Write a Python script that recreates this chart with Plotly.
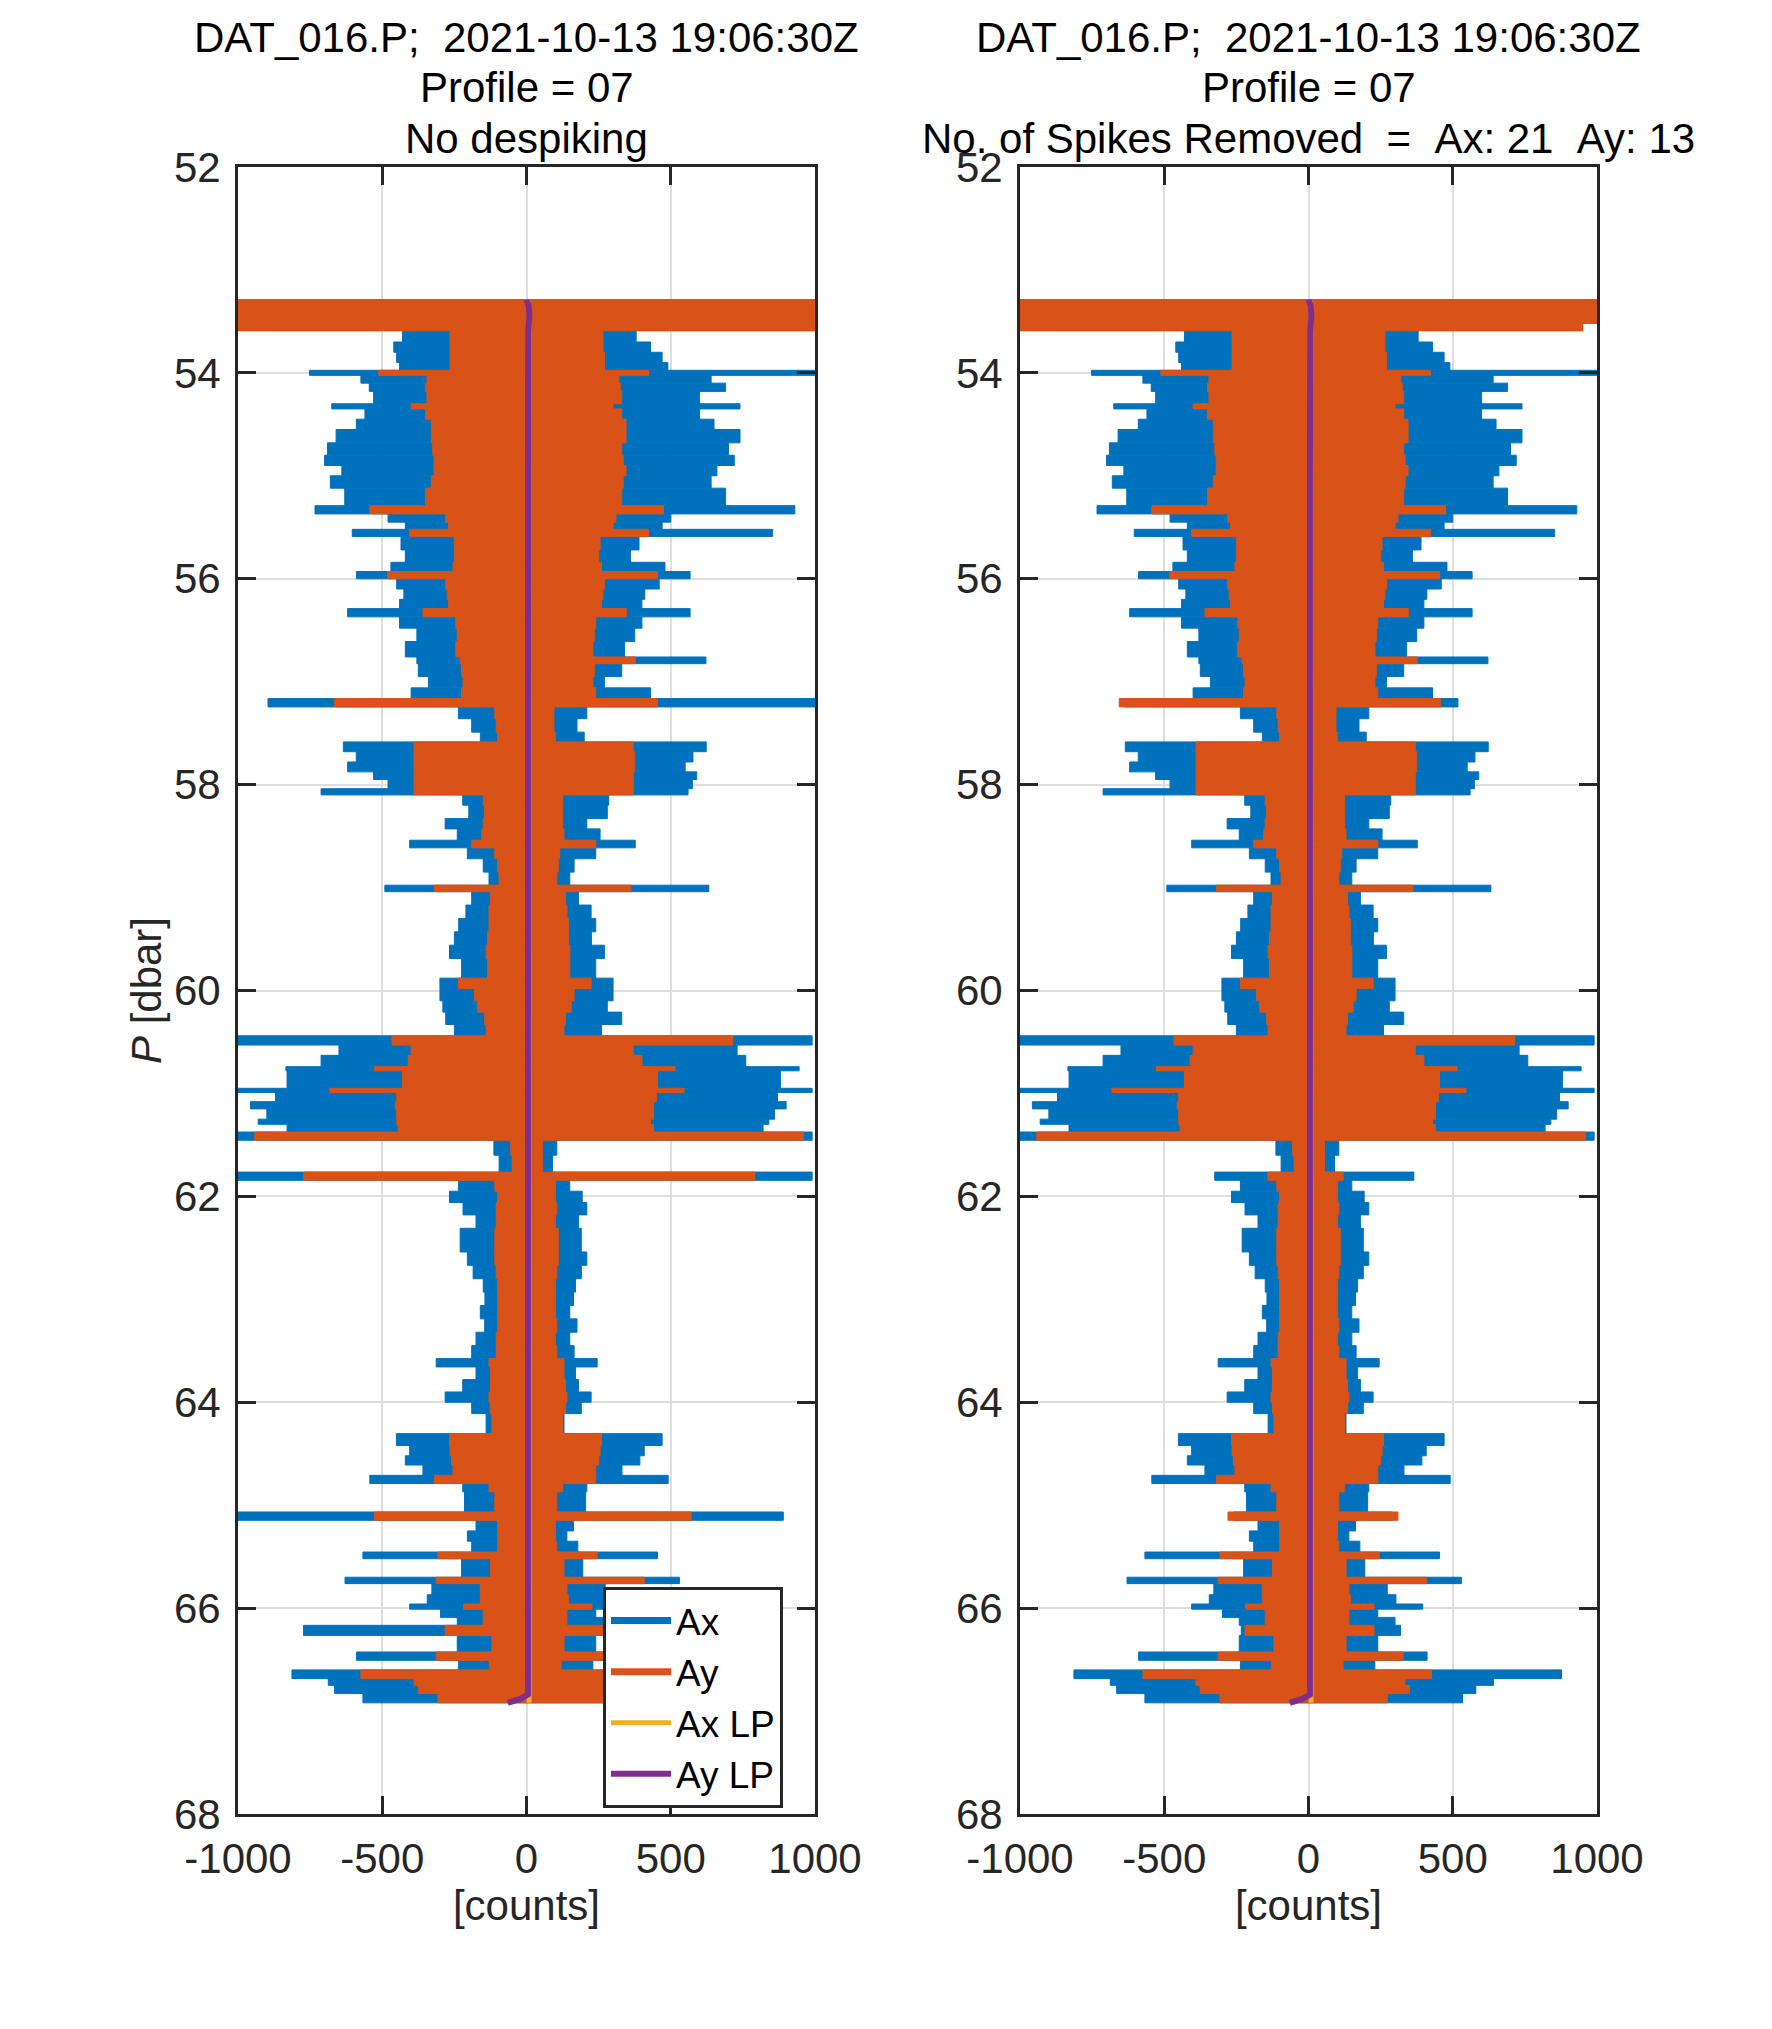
import plotly.graph_objects as go

# Accelerometer envelopes, DAT_016.P profile 07.
# Each segment runs from P_EDGES[i] to P_EDGES[i+1] [dbar]; values in [counts].
P_EDGES = [
    53.29, 53.52, 53.59, 53.70, 53.80, 53.90, 53.975, 54.024, 54.10, 54.18,
    54.30, 54.35, 54.45, 54.55, 54.68, 54.80, 54.90, 55.00, 55.12, 55.29,
    55.37, 55.45, 55.52, 55.59, 55.72, 55.84, 55.93, 56.00, 56.10, 56.20,
    56.29, 56.37, 56.48, 56.61, 56.76, 56.825, 56.95, 57.06, 57.164, 57.245,
    57.36, 57.49, 57.585, 57.68, 57.78, 57.876, 57.95, 58.04, 58.10, 58.20,
    58.33, 58.43, 58.54, 58.614, 58.72, 58.85, 58.977, 59.04, 59.17, 59.30,
    59.43, 59.56, 59.69, 59.88, 59.98, 60.10, 60.21, 60.33, 60.44, 60.53,
    60.63, 60.74, 60.78, 60.95, 60.99, 61.08, 61.15, 61.25, 61.30, 61.375,
    61.455, 61.60, 61.764, 61.844, 61.95, 62.06, 62.18, 62.31, 62.54, 62.67,
    62.80, 62.93, 63.06, 63.19, 63.32, 63.45, 63.576, 63.657, 63.78, 63.90,
    64.00, 64.11, 64.305, 64.42, 64.52, 64.61, 64.71, 64.79, 64.87, 65.066,
    65.147, 65.25, 65.35, 65.455, 65.52, 65.70, 65.762, 65.87, 65.96, 66.01,
    66.09, 66.167, 66.265, 66.426, 66.507, 66.60, 66.685, 66.75, 66.83, 66.92,
]
AX_LO = [
    -1000, -1000, -430, -460, -450, -440, -752, -574, -545, -530,
    -675, -560, -590, -660, -690, -700, -640, -680, -630, -733,
    -480, -420, -604, -435, -420, -470, -589, -450, -425, -440,
    -620, -440, -380, -420, -380, -375, -340, -400, -896, -236,
    -190, -160, -635, -590, -620, -530, -480, -712, -221, -200,
    -282, -240, -405, -205, -150, -130, -491, -190, -210, -235,
    -250, -267, -225, -300, -300, -290, -280, -250, -1000, -650,
    -712, -834, -830, -1000, -870, -957, -900, -930, -830, -1000,
    -113, -95, -1000, -236, -267, -220, -175, -230, -205, -185,
    -150, -144, -160, -145, -175, -190, -313, -175, -221, -282,
    -190, -140, -451, -405, -420, -359, -543, -221, -215, -1000,
    -175, -205, -190, -567, -225, -629, -328, -344, -405, -298,
    -240, -773, -240, -589, -236, -813, -687, -665, -567,
]
AX_HI = [
    1000, 1000, 380, 430, 470, 490, 1000, 640, 690, 600,
    740, 600, 650, 740, 700, 720, 660, 640, 690, 930,
    500, 470, 853, 390, 360, 480, 567, 460, 410, 400,
    567, 400, 375, 340, 622, 330, 270, 430, 1000, 209,
    175, 200, 623, 577, 550, 590, 575, 560, 285, 280,
    209, 255, 377, 240, 165, 150, 632, 180, 224, 240,
    225, 270, 240, 300, 300, 280, 330, 260, 990, 730,
    760, 945, 880, 990, 870, 900, 860, 840, 820, 990,
    105, 90, 990, 150, 193, 209, 180, 190, 209, 190,
    170, 163, 150, 175, 150, 165, 245, 170, 180, 224,
    190, 130, 470, 408, 393, 331, 491, 209, 205, 890,
    163, 140, 178, 454, 195, 530, 273, 303, 396, 240,
    300, 700, 240, 411, 230, 877, 641, 580, 534,
]
AY_LO = [
    -1000, -1000, -265, -265, -265, -265, -512, -345, -350, -345,
    -400, -350, -330, -330, -325, -320, -320, -330, -350, -543,
    -280, -270, -405, -250, -250, -255, -481, -280, -275, -270,
    -359, -245, -240, -245, -230, -225, -220, -225, -665, -110,
    -105, -100, -390, -390, -390, -390, -390, -390, -150, -145,
    -150, -155, -190, -110, -100, -95, -319, -125, -130, -130,
    -135, -140, -135, -236, -180, -170, -145, -140, -466, -400,
    -410, -527, -430, -681, -450, -455, -450, -450, -445, -942,
    -55, -50, -773, -110, -100, -105, -105, -110, -110, -105,
    -100, -100, -100, -100, -105, -105, -130, -125, -125, -130,
    -125, -120, -267, -265, -260, -255, -319, -130, -110, -527,
    -100, -100, -100, -307, -125, -313, -160, -160, -218, -150,
    -150, -282, -120, -313, -129, -574, -390, -375, -307,
]
AY_HI = [
    1000, 1000, 265, 265, 270, 270, 423, 320, 325, 330,
    300, 330, 345, 345, 330, 335, 345, 335, 330, 475,
    310, 300, 423, 255, 250, 260, 454, 270, 265, 260,
    346, 240, 235, 230, 377, 235, 230, 240, 454, 95,
    95, 100, 370, 375, 375, 370, 370, 370, 125, 125,
    125, 130, 240, 115, 110, 105, 362, 135, 140, 145,
    145, 150, 150, 224, 165, 155, 135, 130, 715, 370,
    400, 515, 454, 546, 450, 440, 440, 430, 440, 960,
    55, 55, 791, 100, 100, 105, 100, 110, 110, 105,
    100, 100, 100, 105, 100, 105, 130, 130, 135, 140,
    135, 125, 260, 255, 250, 240, 240, 125, 105, 571,
    100, 100, 105, 245, 130, 408, 140, 145, 227, 140,
    140, 330, 130, 328, 120, 426, 334, 350, 273,
]

# Segments changed by the despiking (right panel)
DESPIKE_P = [53.52, 57.164, 61.764, 65.066, 66.167]
DESPIKE_AX_LO = [-1000, -640, -325, -260, -233]
DESPIKE_AX_HI = [950, 518, 365, 290, 319]
DESPIKE_AY_LO = [-1000, -656, -141, -279, -220]
DESPIKE_AY_HI = [950, 457, 120, 310, 227]

# Low-passed signals
LP_P = [53.29, 53.35, 53.45, 53.60, 55.0, 57.0, 60.0, 62.0, 64.0, 66.0, 66.84, 66.88, 66.92]
AX_LP = [3, 9, 10, 8, 7, 7, 7, 7, 7, 8, 9, 9, 9]
AY_LP = [0, 8, 10, 6, 5, 5, 5, 5, 5, 5, 5, -20, -65]

TITLE_LINE1 = "DAT_016.P;\u00a0\u00a02021-10-13 19:06:30Z"
TITLE_LINE2 = "Profile = 07"
TITLE_LEFT = "No despiking"
TITLE_RIGHT = "No. of Spikes Removed\u00a0\u00a0=\u00a0\u00a0Ax: 21\u00a0\u00a0Ay: 13"

X_TICKS = [-1000, -500, 0, 500, 1000]
X_TICK_TEXT = ["-1000", "-500", "0", "500", "1000"]
Y_TICKS = list(range(52, 69, 2))

BLUE = "#0072BD"
ORANGE = "#D95319"
YELLOW = "#EDB120"
PURPLE = "#7E2F8E"
AXIS_COL = "#262626"
FONT = "Liberation Sans, Arial, Helvetica, sans-serif"
FS = 42

W, H = 1772, 2029

mids = [(a + b) / 2 for a, b in zip(P_EDGES[:-1], P_EDGES[1:])]
hgts = [b - a for a, b in zip(P_EDGES[:-1], P_EDGES[1:])]

# despiked copies
r_ax_lo, r_ax_hi = list(AX_LO), list(AX_HI)
r_ay_lo, r_ay_hi = list(AY_LO), list(AY_HI)
for i, p in enumerate(DESPIKE_P):
    k = P_EDGES.index(p)
    r_ax_lo[k], r_ax_hi[k] = DESPIKE_AX_LO[i], DESPIKE_AX_HI[i]
    r_ay_lo[k], r_ay_hi[k] = DESPIKE_AY_LO[i], DESPIKE_AY_HI[i]


def seg_bar(lo, hi, color, xa, ya):
    return go.Bar(
        y=mids, x=[h - l for l, h in zip(lo, hi)], base=lo, width=hgts,
        orientation="h", marker=dict(color=color, line=dict(color=color, width=1)),
        showlegend=False, hoverinfo="skip", xaxis=xa, yaxis=ya,
    )


fig = go.Figure()

panels = [("x", "y", AX_LO, AX_HI, AY_LO, AY_HI), ("x2", "y2", r_ax_lo, r_ax_hi, r_ay_lo, r_ay_hi)]
for xa, ya, axl, axh, ayl, ayh in panels:
    fig.add_trace(seg_bar(axl, axh, BLUE, xa, ya))
    fig.add_trace(seg_bar(ayl, ayh, ORANGE, xa, ya))

# legend entries for the raw signals
fig.add_trace(go.Scatter(x=[None], y=[None], mode="lines", name="Ax", line=dict(color=BLUE, width=7)))
fig.add_trace(go.Scatter(x=[None], y=[None], mode="lines", name="Ay", line=dict(color=ORANGE, width=7)))

for n, (xa, ya) in enumerate([("x", "y"), ("x2", "y2")]):
    fig.add_trace(go.Scatter(x=AX_LP, y=LP_P, mode="lines", name="Ax LP", line=dict(color=YELLOW, width=5),
                             showlegend=(n == 0), xaxis=xa, yaxis=ya))
    fig.add_trace(go.Scatter(x=AY_LP, y=LP_P, mode="lines", name="Ay LP", line=dict(color=PURPLE, width=6),
                             showlegend=(n == 0), xaxis=xa, yaxis=ya))

# panel geometry (pixels)
left_px, right_px = (230, 807), (1012, 1589)
top_px, bot_px = 159, 1806
ydom = [1 - bot_px / H, 1 - top_px / H]

common_x = dict(
    range=[-1000, 1000], tickvals=X_TICKS, ticktext=X_TICK_TEXT, ticks="inside", ticklen=18, tickwidth=2.5,
    tickcolor=AXIS_COL, showline=True, linecolor=AXIS_COL, linewidth=3, mirror="ticks", showgrid=True,
    gridcolor="#dedede", gridwidth=2, zeroline=False, tickfont=dict(size=FS, color=AXIS_COL),
    ticklabelstandoff=6, automargin=False,
    title=dict(text="[counts]", font=dict(size=FS, color=AXIS_COL), standoff=8),
)
common_y = dict(
    range=[68, 52], tickvals=Y_TICKS, ticks="inside", ticklen=18, tickwidth=2.5, tickcolor=AXIS_COL,
    showline=True, linecolor=AXIS_COL, linewidth=3, mirror="ticks", showgrid=True, gridcolor="#dedede",
    gridwidth=2, zeroline=False, tickfont=dict(size=FS, color=AXIS_COL), ticklabelstandoff=6,
    automargin=False, domain=ydom,
)

fig.update_layout(
    width=W, height=H, margin=dict(l=0, r=0, t=0, b=0, autoexpand=False),
    paper_bgcolor="white", plot_bgcolor="white", barmode="overlay",
    font=dict(family=FONT, color=AXIS_COL),
    xaxis=dict(common_x, domain=[left_px[0] / W, left_px[1] / W], anchor="y"),
    yaxis=dict(common_y, anchor="x", title=dict(text="<i>P</i> [dbar]", font=dict(size=FS, color=AXIS_COL), standoff=0)),
    xaxis2=dict(common_x, domain=[right_px[0] / W, right_px[1] / W], anchor="y2"),
    yaxis2=dict(common_y, anchor="x2"),
    showlegend=True,
    legend=dict(
        x=595 / W, y=1 - 1579 / H, xanchor="left", yanchor="top",
        bgcolor="white", bordercolor=AXIS_COL, borderwidth=3, itemwidth=60,
        font=dict(size=37, color="black", family=FONT), tracegroupgap=0,
    ),
)

# three-line titles
title_y = [29, 80, 130]
for cx, third in [((left_px[0] + left_px[1]) / 2, TITLE_LEFT), ((right_px[0] + right_px[1]) / 2, TITLE_RIGHT)]:
    for ty, txt in zip(title_y, [TITLE_LINE1, TITLE_LINE2, third]):
        fig.add_annotation(
            x=cx / W, y=1 - ty / H, xref="paper", yref="paper", text=txt, showarrow=False,
            xanchor="center", yanchor="middle", font=dict(size=FS, color="black", family=FONT),
        )

fig.write_html("out.html")
